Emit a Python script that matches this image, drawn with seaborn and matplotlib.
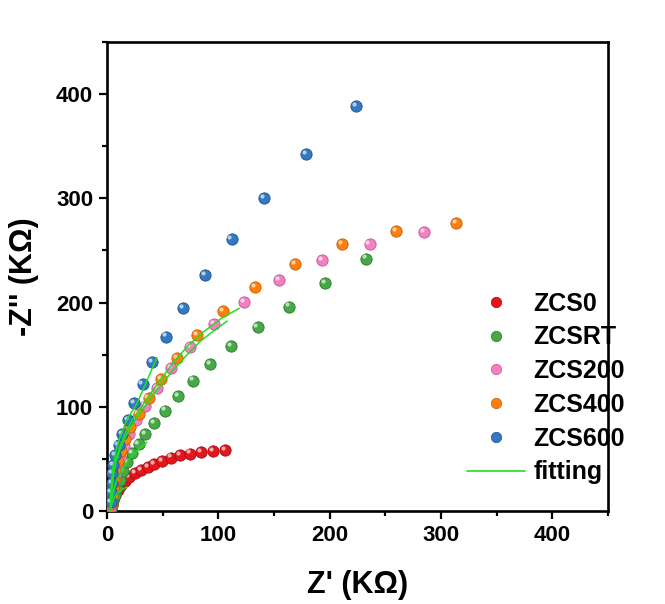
import matplotlib
matplotlib.use("Agg")
import numpy as np
import pandas as pd
import seaborn as sns
import matplotlib.pyplot as plt
from matplotlib.lines import Line2D
from matplotlib.ticker import MultipleLocator
from matplotlib.transforms import offset_copy

# Nyquist data (Z' and -Z'' in kOhm) for each sample
zcs0_x = [3.5, 4.1, 5.4, 7.1, 9.5, 12.5, 16.1, 20.2, 25.1, 30.7, 36.7, 42.6, 49.8, 57.3, 65.6, 74.6, 84.4, 94.9, 105.9]
zcs0_y = [1.5, 5.7, 10.5, 15.3, 20.0, 24.5, 28.6, 32.2, 36.0, 39.1, 42.3, 44.9, 48.0, 51.3, 53.5, 55.1, 56.6, 57.6, 58.2]

zcsrt_x = [3.6, 4.5, 5.6, 7.0, 8.9, 11.3, 14.3, 17.9, 22.4, 28.3, 34.3, 42.5, 52.3, 64.2, 77.3, 92.6, 111.6, 135.2, 163.4, 195.5, 233.0]
zcsrt_y = [2.0, 6.0, 10.5, 15.5, 21.6, 29.6, 38.5, 47.1, 55.7, 64.6, 74.2, 84.5, 96.4, 110.0, 125.2, 141.3, 158.2, 176.6, 196.2, 218.3, 242.2]

zcs200_x = [3.5, 4.0, 4.7, 5.8, 7.3, 9.3, 12.0, 15.5, 20.0, 26.2, 34.3, 44.8, 57.6, 74.6, 96.1, 122.7, 154.9, 192.8, 235.8, 284.4]
zcs200_y = [5.0, 13.0, 20.0, 27.0, 35.0, 43.0, 52.0, 62.0, 74.0, 86.9, 101.2, 118.1, 137.2, 157.5, 179.2, 200.5, 221.5, 240.6, 255.8, 267.3]

zcs400_x = [3.6, 4.2, 5.0, 6.0, 7.5, 9.5, 12.5, 16.0, 20.9, 28.3, 37.3, 48.4, 62.7, 81.2, 103.9, 133.1, 168.9, 211.0, 259.4, 313.4]
zcs400_y = [7.0, 14.0, 22.0, 30.0, 39.0, 48.0, 58.0, 69.0, 80.5, 93.2, 108.5, 126.7, 146.7, 168.7, 191.9, 215.1, 237.0, 255.8, 269.0, 276.2]

zcs600_x = [3.9, 4.0, 4.2, 4.5, 5.4, 7.4, 10.4, 13.6, 19.1, 24.4, 31.9, 40.8, 53.1, 68.6, 88.0, 111.9, 141.2, 178.8, 223.8]
zcs600_y = [9.0, 18.0, 27.0, 36.0, 43.9, 53.5, 63.0, 74.0, 87.5, 103.4, 121.9, 142.5, 167.4, 195.0, 226.0, 260.9, 300.0, 342.4, 388.3]

# Equivalent-circuit fitting curves
fit_zcs0_x = [3.0, 4.0, 6.0, 10.0, 14.0, 18.0]
fit_zcs0_y = [0.0, 6.0, 12.0, 18.0, 21.0, 23.0]
fit_zcsrt_x = [3.0, 4.0, 6.0, 9.0, 14.0, 20.0, 27.0, 35.8]
fit_zcsrt_y = [0.0, 10.0, 20.0, 30.0, 40.0, 50.0, 58.0, 66.0]
fit_zcs200_x = [3.0, 4.0, 5.5, 8.0, 12.0, 17.0, 22.0, 29.0, 38.0, 48.0, 60.0, 72.0, 84.0, 96.0, 108.0]
fit_zcs200_y = [0.0, 17.0, 33.0, 47.0, 60.0, 72.0, 82.0, 93.0, 106.0, 120.0, 136.0, 150.0, 163.0, 173.0, 182.3]
fit_zcs400_x = [3.0, 4.0, 5.5, 8.0, 12.0, 17.0, 22.0, 29.0, 38.0, 48.0, 60.0, 73.0, 88.0, 103.0, 118.8]
fit_zcs400_y = [0.0, 18.0, 35.0, 50.0, 63.0, 76.0, 86.0, 97.0, 111.0, 126.0, 143.0, 159.0, 173.0, 185.0, 194.5]
fit_zcs600_x = [3.0, 3.5, 5.0, 8.0, 12.0, 18.0, 26.8, 34.3, 44.8]
fit_zcs600_y = [0.0, 20.0, 40.0, 58.0, 72.0, 88.0, 103.0, 121.0, 147.3]

labels = ["ZCS0", "ZCSRT", "ZCS200", "ZCS400", "ZCS600"]
colors = ["#e3161c", "#46a846", "#f27fc2", "#ff7f0e", "#3479c0"]
edges = ["#a50d12", "#2c7a2c", "#c55595", "#c45e00", "#1f5390"]
fit_color = "#1fe01f"

series_x = [zcs0_x, zcsrt_x, zcs200_x, zcs400_x, zcs600_x]
series_y = [zcs0_y, zcsrt_y, zcs200_y, zcs400_y, zcs600_y]
fits_x = [fit_zcs0_x, fit_zcsrt_x, fit_zcs200_x, fit_zcs400_x, fit_zcs600_x]
fits_y = [fit_zcs0_y, fit_zcsrt_y, fit_zcs200_y, fit_zcs400_y, fit_zcs600_y]

data = pd.concat(
    [pd.DataFrame({"Zre": x, "Zim": y, "sample": lab}) for x, y, lab in zip(series_x, series_y, labels)],
    ignore_index=True,
)
fits = pd.concat(
    [pd.DataFrame({"Zre": x, "Zim": y, "sample": lab}) for x, y, lab in zip(fits_x, fits_y, labels)],
    ignore_index=True,
)

sns.set_theme(style="white")
plt.rcParams["font.family"] = ["Liberation Sans", "DejaVu Sans"]
plt.rcParams["font.weight"] = "bold"
plt.rcParams["axes.labelweight"] = "bold"
for key in ["text.color", "axes.labelcolor", "xtick.color", "ytick.color",
            "xtick.labelcolor", "ytick.labelcolor"]:
    plt.rcParams[key] = "black"

fig = plt.figure(figsize=(6.65, 6.04), dpi=100)
ax = fig.add_axes([107 / 665, 1 - 511 / 604, 501 / 665, 469 / 604])

# glossy ball markers: base disc plus a small offset highlight
hl = offset_copy(ax.transData, fig=fig, x=-1.5, y=1.5, units="points")
for i, (lab, col, ec) in enumerate(zip(labels, colors, edges)):
    sub = data[data["sample"] == lab]
    sns.scatterplot(data=sub, x="Zre", y="Zim", color=col, edgecolor=ec,
                    linewidth=0.6, s=66, ax=ax, zorder=2 + i, legend=False)
    ax.scatter(sub["Zre"], sub["Zim"], s=9, color="white", alpha=0.65,
               linewidths=0, transform=hl, zorder=2.5 + i)

sns.lineplot(data=fits, x="Zre", y="Zim", units="sample", estimator=None,
             sort=False, color=fit_color, linewidth=1.1, ax=ax, zorder=10)

ax.set_xlim(0, 450)
ax.set_ylim(0, 450)
ax.xaxis.set_major_locator(MultipleLocator(100))
ax.xaxis.set_minor_locator(MultipleLocator(50))
ax.yaxis.set_major_locator(MultipleLocator(100))
ax.yaxis.set_minor_locator(MultipleLocator(50))
ax.tick_params(which="both", direction="out", left=True, bottom=True,
               top=False, right=False, width=1.6, color="black",
               labelcolor="black", labelsize=16, pad=4)
ax.tick_params(which="major", length=6)
ax.tick_params(which="minor", length=3.5)
for lbl in ax.get_xticklabels() + ax.get_yticklabels():
    lbl.set_fontweight("bold")
for sp in ax.spines.values():
    sp.set_linewidth(1.9)
    sp.set_color("black")

ax.set_xlabel("Z' (K\u03a9)", fontsize=22, fontweight="bold", color="black", labelpad=17)
ax.set_ylabel("-Z'' (K\u03a9)", fontsize=22, fontweight="bold", color="black", labelpad=12)

handles = [Line2D([], [], linestyle="none", marker="o", markersize=7.5,
                  markerfacecolor=c, markeredgecolor=e, markeredgewidth=0.5)
           for c, e in zip(colors, edges)]
handles.append(Line2D([], [], color=fit_color, linewidth=1.2))
leg = ax.legend(handles, labels + ["fitting"], loc="center left",
                bbox_to_anchor=(0.719, 0.262), frameon=False, fontsize=18,
                handlelength=2.3, handletextpad=0.35, labelspacing=0.39,
                borderpad=0, borderaxespad=0)
for t in leg.get_texts():
    t.set_fontweight("bold")
    t.set_color("black")

fig.savefig("out.png", dpi=100, facecolor="white")
